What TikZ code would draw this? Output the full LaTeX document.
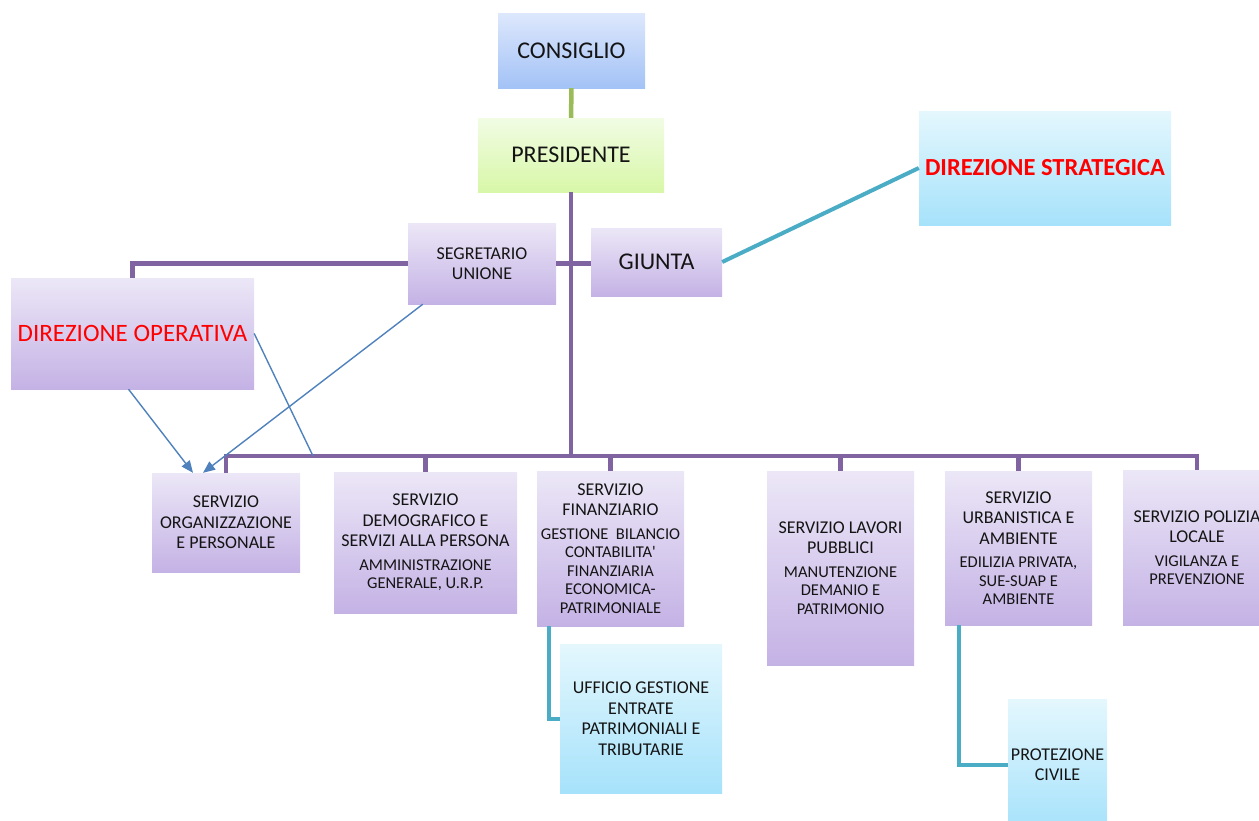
\documentclass[tikz,border=0pt]{standalone}
\usepackage{fontspec}
\setmainfont{Carlito}
\usepackage{tikz}
\usetikzlibrary{positioning,arrows.meta,calc}
\definecolor{orgpurple}{RGB}{128,100,162}
\definecolor{orggreen}{RGB}{155,187,89}
\definecolor{orgcyan}{RGB}{75,172,198}
\definecolor{orgblue}{RGB}{79,129,189}
\definecolor{textdark}{RGB}{20,20,20}
\def\fontgrande{\fontsize{24pt}{28pt}\selectfont}
\def\fontmedio{\fontsize{18pt}{20.5pt}\selectfont}
\def\fs{\fontsize{16.5pt}{18pt}\selectfont}
\def\nl{\\[-2pt]\fs}

\begin{document}
\begin{tikzpicture}[>={Triangle[width=10pt,length=12pt]},
	box/.style={rectangle, inner sep=0pt, align=center, text=textdark, font=\fontmedio},
	lilla/.style={box, top color={rgb,255:red,236;green,231;blue,247}, bottom color={rgb,255:red,196;green,178;blue,229}},
	azzurro/.style={box, top color={rgb,255:red,228;green,247;blue,253}, bottom color={rgb,255:red,166;green,226;blue,251}},
	celeste/.style={box, top color={rgb,255:red,221;green,232;blue,252}, bottom color={rgb,255:red,163;green,194;blue,246}},
	verde/.style={box, top color={rgb,255:red,241;green,252;blue,228}, bottom color={rgb,255:red,216;green,247;blue,168}},
	viola/.style={draw=orgpurple, line width=4.5pt},
	ciano/.style={draw=orgcyan, line width=4pt},
	freccia/.style={draw=orgblue, line width=1.4pt}]
	\useasboundingbox (0pt,0pt) rectangle (1259pt,-820pt);
	\draw (571.5pt, -50.5pt)node[celeste, minimum width=147pt, minimum height=75pt, font=\fontgrande](cons){CONSIGLIO};
	\draw (571.0pt, -155.0pt)node[verde, minimum width=186pt, minimum height=74pt, font=\fontgrande](pres){PRESIDENTE};
	\draw (482.0pt, -263.5pt)node[lilla, minimum width=148pt, minimum height=81pt](segr){SEGRETARIO\\UNIONE};
	\draw (656.5pt, -262.0pt)node[lilla, minimum width=131pt, minimum height=68pt, font=\fontgrande](giunta){GIUNTA};
	\draw (132.5pt, -333.5pt)node[lilla, minimum width=243pt, minimum height=111pt, font=\fontsize{25pt}{29pt}\selectfont, text=red](dirop){DIREZIONE OPERATIVA};
	\draw (1045.0pt, -168.0pt)node[azzurro, minimum width=252pt, minimum height=114pt, font=\fontsize{24.5pt}{28pt}\selectfont\bfseries, text=red](dirstr){DIREZIONE STRATEGICA};
	\draw (226.0pt, -522.5pt)node[lilla, minimum width=148pt, minimum height=99pt](serorg){SERVIZIO\\ORGANIZZAZIONE\\E PERSONALE};
	\draw (425.5pt, -542.5pt)node[lilla, minimum width=183pt, minimum height=141pt](serdem){SERVIZIO\\DEMOGRAFICO E\\SERVIZI ALLA PERSONA\\[3pt]\fs AMMINISTRAZIONE\nl GENERALE, U.R.P.};
	\draw (610.5pt, -548.5pt)node[lilla, minimum width=147pt, minimum height=155pt](serfin){SERVIZIO\\FINANZIARIO\\[3pt]\fs GESTIONE\ \ BILANCIO\nl CONTABILITA\textquotesingle\nl FINANZIARIA\nl ECONOMICA-\nl PATRIMONIALE};
	\draw (840.5pt, -568.0pt)node[lilla, minimum width=147pt, minimum height=194pt](serlav){SERVIZIO LAVORI\\PUBBLICI\\[3pt]\fs MANUTENZIONE\nl DEMANIO E\nl PATRIMONIO};
	\draw (1018.5pt, -548.0pt)node[lilla, minimum width=147pt, minimum height=154pt](serurb){SERVIZIO\\URBANISTICA E\\AMBIENTE\\[3pt]\fs EDILIZIA PRIVATA,\nl SUE-SUAP E\nl AMBIENTE};
	\draw (1197.0pt, -547.5pt)node[lilla, minimum width=148pt, minimum height=155pt](serpol){SERVIZIO POLIZIA\\LOCALE\\[3pt]\fs VIGILANZA E\nl PREVENZIONE};
	\draw (641.0pt, -718.5pt)node[azzurro, minimum width=162pt, minimum height=149pt](uffic){UFFICIO GESTIONE\\ENTRATE\\PATRIMONIALI E\\TRIBUTARIE};
	\draw (1057.5pt, -764.5pt)node[azzurro, minimum width=99pt, minimum height=131pt](prociv){PROTEZIONE\\CIVILE};
	\coordinate (bus) at (0pt, -456pt);
	\coordinate (incrocio) at (313pt, -456pt);
	% linee organigramma
	\draw[orggreen, line width=4.5pt] (cons) -- (pres);
	\draw[viola] (pres) -- (pres.south |- bus);
	\draw[viola] (dirop.north) |- (segr.west);
	\draw[viola] (segr.east) -- (segr.east -| giunta.west);
	\draw[viola] ([xshift=-2pt]serorg.north |- bus) -- ([xshift=2pt]serpol.north |- bus);
	\foreach \s in {serorg, serdem, serfin, serlav, serurb, serpol}
		\draw[viola] (\s.north |- bus) -- (\s.north);
	\draw[ciano] (giunta.east) -- (dirstr.west);
	\draw[ciano] ([xshift=12pt]serfin.south west) |- (uffic.west);
	\draw[ciano] ([xshift=14pt]serurb.south west) |- (prociv.west);
	% frecce
	\draw[freccia, ->] ([xshift=-4pt]dirop.south) -- ([xshift=-33pt]serorg.north);
	\draw[freccia, ->] ([xshift=15pt]segr.south west) -- ([xshift=-23pt]serorg.north);
	\draw[freccia] (dirop.east) -- (incrocio);
\end{tikzpicture}
\end{document}
